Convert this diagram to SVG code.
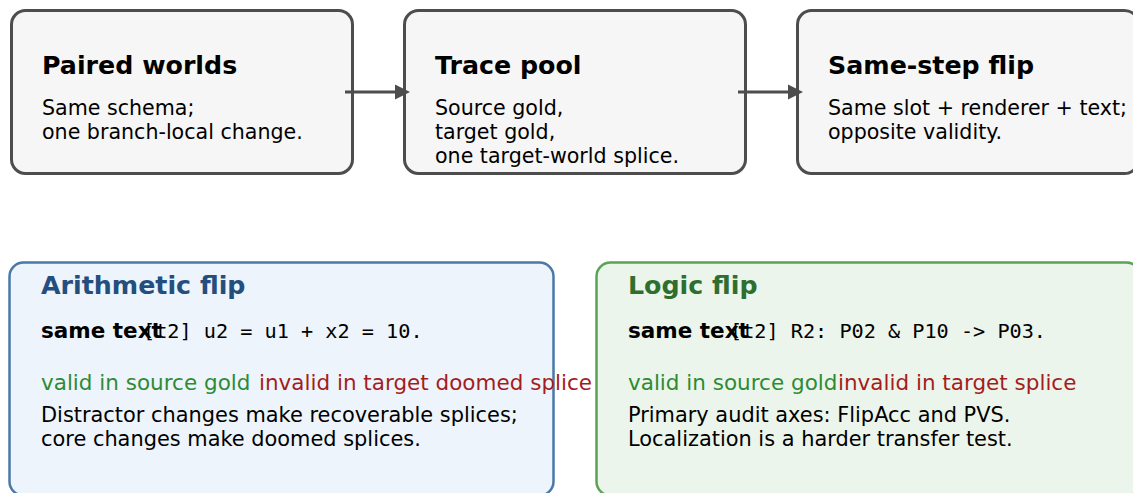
<svg xmlns="http://www.w3.org/2000/svg" width="1133" height="493" viewBox="0 0 1133 493">
<defs>
<style>
.box{fill:#f6f6f6;stroke:#4d4d4d;stroke-width:3}
.title{font-family:"DejaVu Sans",sans-serif;font-weight:bold;font-size:25.3px;fill:#000}
.body{font-family:"DejaVu Sans",sans-serif;font-size:20.6px;fill:#000}
.body2{font-family:"DejaVu Sans",sans-serif;font-size:20.9px;fill:#000}
.lbl{font-family:"DejaVu Sans",sans-serif;font-weight:bold;font-size:21.5px;fill:#000}
.mono{font-family:"DejaVu Sans Mono",monospace;font-size:20.2px;fill:#000}
.ok{font-family:"DejaVu Sans",sans-serif;font-size:21.5px;fill:#2e8b34}
.bad{font-family:"DejaVu Sans",sans-serif;font-size:21.5px;fill:#a51c1c}
.conn{stroke:#4d4d4d;stroke-width:3;fill:none}
</style>
</defs>
<rect width="1133" height="493" fill="#ffffff"/>

<g id="node-paired-worlds">
<rect class="box" x="11.5" y="10.5" width="341" height="163" rx="14"/>
<text class="title" x="42" y="74">Paired worlds</text>
<text class="body" x="42" y="115">Same schema;</text>
<text class="body" x="42" y="139">one branch-local change.</text>
</g>

<g id="node-trace-pool">
<rect class="box" x="404.5" y="10.5" width="341" height="163" rx="14"/>
<text class="title" x="435" y="74">Trace pool</text>
<text class="body" x="435" y="115">Source gold,</text>
<text class="body" x="435" y="139">target gold,</text>
<text class="body" x="435" y="163">one target-world splice.</text>
</g>

<g id="node-same-step-flip">
<rect class="box" x="797.5" y="10.5" width="341" height="163" rx="14"/>
<text class="title" x="828" y="74">Same-step flip</text>
<text class="body" x="828" y="115">Same slot + renderer + text;</text>
<text class="body" x="828" y="139">opposite validity.</text>
</g>

<g id="node-arithmetic-flip">
<rect x="9.5" y="262.5" width="544" height="233" rx="14" fill="#edf4fb" stroke="#4a78a8" stroke-width="2.5"/>
<text class="title" x="41" y="294" style="fill:#244e7e">Arithmetic flip</text>
<text class="lbl" x="41" y="338">same text</text>
<text class="mono" x="143" y="338">[t2] u2 = u1 + x2 = 10.</text>
<text class="ok" x="41" y="390">valid in source gold</text>
<text class="bad" x="259" y="390">invalid in target doomed splice</text>
<text class="body2" x="41" y="422">Distractor changes make recoverable splices;</text>
<text class="body2" x="41" y="446">core changes make doomed splices.</text>
</g>

<g id="node-logic-flip">
<rect x="596.5" y="262.5" width="544" height="233" rx="14" fill="#ecf5ec" stroke="#5aa352" stroke-width="2.5"/>
<text class="title" x="628" y="294" style="fill:#2e6f30">Logic flip</text>
<text class="lbl" x="628" y="338">same text</text>
<text class="mono" x="730" y="338">[t2] R2: P02 &amp; P10 -&gt; P03.</text>
<text class="ok" x="628" y="390">valid in source gold</text>
<text class="bad" x="838" y="390">invalid in target splice</text>
<text class="body2" x="628" y="422">Primary audit axes: FlipAcc and PVS.</text>
<text class="body2" x="628" y="446">Localization is a harder transfer test.</text>
</g>

<g id="connectors">
<line class="conn" x1="345" y1="92" x2="397" y2="92"/>
<polygon points="395,84.5 410,92 395,99.5" fill="#4d4d4d"/>
<line class="conn" x1="738" y1="92" x2="790" y2="92"/>
<polygon points="788,84.5 803,92 788,99.5" fill="#4d4d4d"/>
</g>
</svg>
